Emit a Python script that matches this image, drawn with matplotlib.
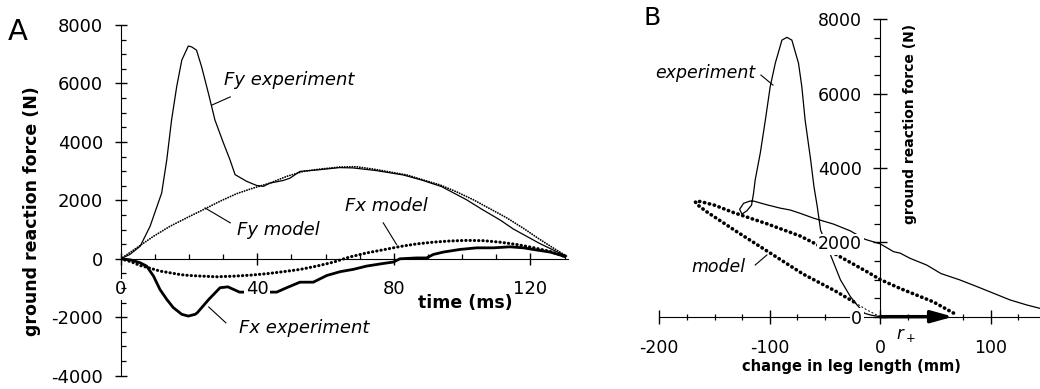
import matplotlib
matplotlib.use("Agg")
import matplotlib.pyplot as plt
from matplotlib.ticker import MultipleLocator

plt.rcParams['axes.unicode_minus'] = False

# ---- panel A: force vs time ----
t_fy_exp = [0, 2.7, 5.7, 8.6, 12, 13.5, 14.9, 16.4, 17.9, 19.8, 20.8, 22.2, 23.7, 25.7,
            27.6, 30.1, 32, 33.5, 36.9, 39.8, 41.8, 43.7, 47.6, 49.6, 52.5, 58.4, 64, 68,
            74.8, 82.7, 88, 94, 101.3, 106, 111.1, 115, 118.9, 122.8, 126.7, 130.3]
fy_exp = [0, 150, 430, 1110, 2250, 3390, 4750, 5890, 6800, 7280, 7250, 7140, 6570, 5660,
          4750, 3960, 3390, 2880, 2650, 2510, 2480, 2590, 2680, 2760, 2990, 3050, 3120, 3110,
          3020, 2870, 2700, 2470, 2020, 1680, 1330, 1020, 770, 520, 300, 110]

t_fy_mod = [0, 4.7, 9.6, 14.4, 19.3, 25.2, 29.1, 34, 38.8, 43.7, 48.6, 53.5, 58.4, 64.2,
            69, 74, 78.9, 83.8, 88.6, 93.5, 98.4, 103.3, 108.2, 113.1, 118, 122.8, 126.7, 130.6]
fy_mod = [0, 375, 770, 1110, 1400, 1740, 1970, 2230, 2420, 2590, 2820, 2990, 3070, 3140,
          3150, 3070, 2970, 2870, 2700, 2530, 2290, 2020, 1710, 1400, 1040, 660, 370, 90]

t_fx_exp = [0, 3, 5.7, 7.6, 9.6, 11.5, 13.5, 15.4, 17.9, 19.8, 21.8, 22.4, 25.8, 29.1,
            31.4, 34.8, 39.3, 45.7, 48.6, 52.5, 56.4, 60.4, 64.3, 68.2, 72, 76.9, 79.9,
            81.8, 86.7, 89.6, 91.6, 94.5, 99.4, 104.3, 109.2, 114, 118, 121.9, 125.8, 128.2, 130]
fx_exp = [0, -40, -136, -250, -590, -1050, -1390, -1670, -1900, -1960, -1900, -1850, -1390, -990,
          -960, -1140, -1140, -1140, -990, -800, -800, -570, -440, -360, -250, -160, -110,
          0, 30, 30, 150, 230, 320, 375, 375, 410, 375, 300, 230, 150, 80]

t_fx_mod = [0, 3, 5.7, 8.6, 11.5, 14, 17.4, 20, 23.2, 28, 33, 38, 42.8, 47.7, 52.5, 57.4,
            62.3, 67, 72, 77, 81.8, 86.7, 91.6, 96.5, 101.4, 106.3, 111, 116, 121, 125.8, 130]
fx_mod = [0, -100, -230, -320, -420, -470, -540, -570, -590, -615, -595, -560, -510, -440,
          -365, -250, -115, 60, 200, 310, 420, 510, 570, 610, 630, 620, 570, 490, 380, 250, 80]

# ---- panel B: force vs change in leg length ----
dl_exp = [0, -8, -14, -21, -27, -36, -45, -54, -57, -60, -63, -68, -71, -74, -77, -80, -84.5,
          -89, -95, -99.6, -104, -108.6, -113.2, -114.7, -116.5, -120.7, -125.2, -127.3, -123.7,
          -118, -114.7, -102.6, -90.5, -81.5, -72.4, -60.3, -42.2, -27.2, -13.6, 0, 12, 18, 27,
          42, 55, 72, 87.5, 102.6, 117.6, 132.7, 144.5]
f_exp = [0, 40, 90, 315, 540, 990, 1660, 2330, 2960, 3500, 4220, 5290, 6190, 6820, 7130, 7440, 7515,
         7440, 6820, 6190, 5290, 4400, 3680, 3320, 3000, 2850, 2760, 2890, 3050,
         3110, 3110, 3010, 2920, 2870, 2780, 2650, 2490, 2310, 2080, 1960, 1750, 1710, 1570,
         1390, 1160, 990, 810, 630, 450, 315, 225]

dl_mod = [-24, -40, -70, -100, -130, -157, -165, -167.5, -163, -150, -132.7, -102.6, -72.4,
          -42.2, -12, 0, 18, 48, 68]
f_mod = [400, 680, 1150, 1720, 2290, 2820, 3000, 3090, 3100, 3000, 2800, 2500, 2170,
         1710, 1210, 1000, 760, 400, 70]
dl_mod_start = [0, -3, -12, -24]
f_mod_start = [0, 45, 180, 400]

W, H = 1040, 389
fig = plt.figure(figsize=(W / 100, H / 100), dpi=100)

dots = (0, (0.1, 1.3))

# ---------------- A ----------------
axA = fig.add_axes([120.7 / W, 13.3 / H, 131 * 3.414 / W, 350.7 / H])
axA.set_xlim(0, 131)
axA.set_ylim(-4000, 8000)
axA.plot(t_fy_exp, fy_exp, color='black', lw=0.9)
axA.plot(t_fy_mod, fy_mod, color='black', lw=1.3, ls=dots, dash_capstyle='round')
axA.plot(t_fx_exp, fx_exp, color='black', lw=2.0, solid_joinstyle='round')
axA.plot(t_fx_mod, fx_mod, color='black', lw=2.2, ls=dots, dash_capstyle='round')

for s in ['top', 'right']:
    axA.spines[s].set_visible(False)
axA.spines['bottom'].set_position(('data', 0))
axA.set_axisbelow(False)
axA.set_xticks([0, 40, 80, 120])
axA.set_yticks(range(-4000, 8001, 2000))
axA.xaxis.set_minor_locator(MultipleLocator(10))
axA.yaxis.set_minor_locator(MultipleLocator(500))
axA.tick_params(which='major', direction='inout', length=9, width=1, labelsize=13)
axA.tick_params(axis='y', which='major', pad=8)
axA.tick_params(axis='x', which='major', pad=11)
axA.tick_params(which='minor', direction='in', length=3.5, width=0.9)
plt.setp(axA.get_xticklabels(), bbox=dict(facecolor='white', edgecolor='none', pad=1))

axA.text(30.3, 6110, 'Fy experiment', style='italic', fontsize=13, ha='left', va='center')
axA.plot([26.7, 32.1], [5260, 5540], color='black', lw=0.8)
axA.text(34, 1000, 'Fy model', style='italic', fontsize=13, ha='left', va='center')
axA.plot([24.7, 32.1], [1740, 1230], color='black', lw=0.8)
axA.text(77.7, 1790, 'Fx model', style='italic', fontsize=13, ha='center', va='center')
axA.plot([76.9, 80.8], [1230, 490], color='black', lw=0.8)
axA.text(53.8, -2370, 'Fx experiment', style='italic', fontsize=13, ha='center', va='center')
axA.plot([25.8, 30.8], [-1650, -2190], color='black', lw=0.8)
axA.text(101, -1510, 'time (ms)', fontweight='bold', fontsize=12.5, ha='center', va='center')

fig.text(31.7 / W, 1 - 211.5 / H, 'ground reaction force (N)', rotation=90,
         fontweight='bold', fontsize=12.5, ha='center', va='center')
fig.text(8 / W, 1 - 40 / H, 'A', fontsize=21, ha='left', va='baseline')

# ---------------- B ----------------
axB = fig.add_axes([659.3 / W, 72.3 / H, 344.5 * 1.1047 / W, 297.4 / H])
axB.set_xlim(-200, 144.5)
axB.set_ylim(0, 8000)
axB.plot(dl_exp, f_exp, color='black', lw=0.9)
axB.plot(dl_mod, f_mod, color='black', lw=2.6, ls=dots, dash_capstyle='round')
axB.plot(dl_mod_start, f_mod_start, color='black', lw=0.7, ls=(0, (2, 2)))
axB.annotate('', xy=(66, 0), xytext=(0, 0),
             arrowprops=dict(arrowstyle='-|>,head_length=0.72,head_width=0.2',
                             lw=2.5, color='black', mutation_scale=18,
                             shrinkA=0, shrinkB=0))

for s in ['top', 'right']:
    axB.spines[s].set_visible(False)
axB.spines['left'].set_position(('data', 0))
axB.spines['bottom'].set_position(('data', 0))
axB.set_axisbelow(False)
axB.set_xticks([-200, -100, 0, 100])
axB.set_yticks(range(0, 8001, 2000))
axB.xaxis.set_minor_locator(MultipleLocator(25))
axB.yaxis.set_minor_locator(MultipleLocator(500))
axB.tick_params(which='major', direction='inout', length=10, width=1, labelsize=12.5)
axB.tick_params(axis='y', which='major', pad=8)
axB.tick_params(axis='x', which='major', pad=11)
axB.tick_params(axis='y', which='minor', direction='out', length=4, width=0.9)
axB.tick_params(axis='x', which='minor', direction='inout', length=5, width=0.9)
plt.setp(axB.get_yticklabels(), bbox=dict(facecolor='white', edgecolor='none', pad=1))

axB.text(-158.4, 6550, 'experiment', style='italic', fontsize=12.5, ha='center', va='center')
axB.plot([-108, -97.1], [6500, 6230], color='black', lw=0.8)
axB.text(-146.6, 1345, 'model', style='italic', fontsize=12.5, ha='center', va='center')
axB.plot([-113.2, -102.6], [1390, 1660], color='black', lw=0.8)
axB.text(23.5, -490, r'$r_+$', fontsize=12, ha='center', va='center')
axB.text(27, 5180, 'ground reaction force (N)', rotation=90, fontweight='bold',
         fontsize=10, ha='center', va='center')
axB.text(-26.3, -1350, 'change in leg length (mm)', fontweight='bold', fontsize=10.5,
         ha='center', va='center')
fig.text(643 / W, 1 - 25 / H, 'B', fontsize=18, ha='left', va='baseline')

fig.savefig('out.png', dpi=100)
